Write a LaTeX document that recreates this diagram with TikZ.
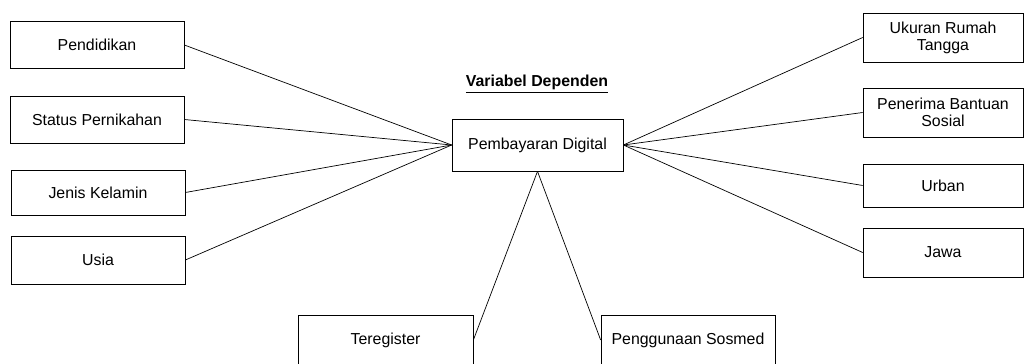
\documentclass[tikz,border=0pt]{standalone}
\usepackage{fontspec}
\setmainfont{Liberation Sans}
\usetikzlibrary{positioning}

\begin{document}
\begin{tikzpicture}[x=0.25mm, y=-0.25mm,
    varbox/.style={draw, line width=0.5pt, align=center, inner sep=2pt,
      font=\fontsize{11.3}{12}\selectfont},
    link/.style={line width=0.5pt}]
    \useasboundingbox (0,0) rectangle (1024,363);

    % Dependent variable
    \node[font=\fontsize{11.3}{12}\selectfont\bfseries] (title) at (537,84) {\underline{Variabel Dependen}};
    \node[varbox, minimum width=42.75mm, minimum height=13mm] (pay) at (537.5,145) {Pembayaran Digital};

    % Left side
    \node[varbox, minimum width=43.5mm, minimum height=11.75mm] (pend) at (97,45) {Pendidikan};
    \node[varbox, minimum width=43.5mm, minimum height=11.75mm] (stat) at (97,119.5) {Status Pernikahan};
    \node[varbox, minimum width=43.5mm, minimum height=11.25mm] (jenis) at (98,192.5) {Jenis Kelamin};
    \node[varbox, minimum width=43.5mm, minimum height=12mm] (usia) at (98,260) {Usia};

    % Right side
    \node[varbox, minimum width=40mm, minimum height=12.25mm] (ukur) at (943,37.5) {Ukuran Rumah\\Tangga};
    \node[varbox, minimum width=40mm, minimum height=12.25mm] (bansos) at (943,112.5) {Penerima Bantuan\\Sosial};
    \node[varbox, minimum width=40mm, minimum height=10.75mm] (urban) at (943,185.5) {Urban};
    \node[varbox, minimum width=40mm, minimum height=12.25mm] (jawa) at (943,252.5) {Jawa};

    % Bottom
    \node[varbox, minimum width=43.75mm, minimum height=12.5mm] (reg) at (385.5,340) {Teregister};
    \node[varbox, minimum width=43.5mm, minimum height=12.5mm] (sosmed) at (688,340) {Penggunaan Sosmed};

    % Links
    \foreach \n in {pend,stat,jenis,usia}
        \draw[link] (\n.east) -- (pay.west);
    \foreach \n in {ukur,bansos,urban,jawa}
        \draw[link] (pay.east) -- (\n.west);
    \draw[link] (pay.south) -- (reg.east);
    \draw[link] (pay.south) -- (sosmed.west);
\end{tikzpicture}
\end{document}
